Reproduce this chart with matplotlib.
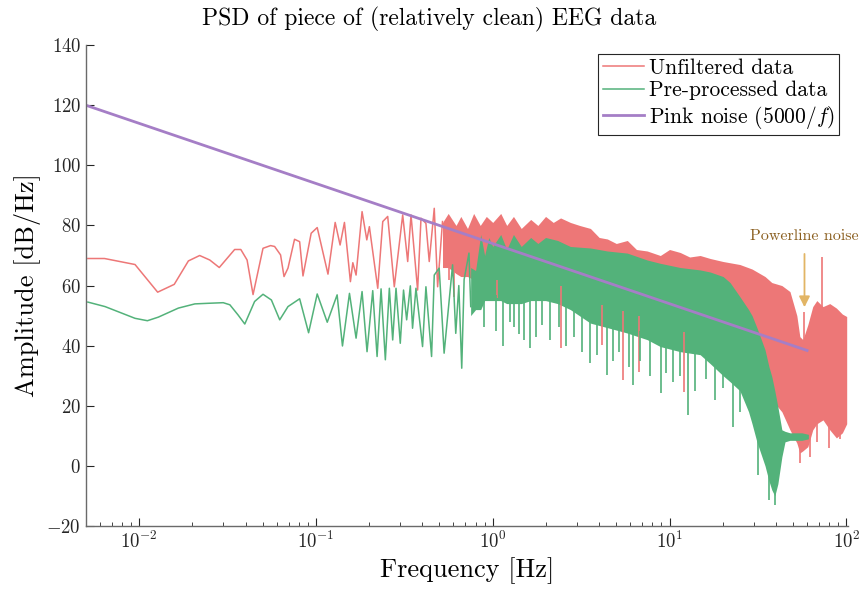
import numpy as np
import matplotlib
matplotlib.use("Agg")
import matplotlib.pyplot as plt

plt.rcParams['font.family'] = 'serif'
plt.rcParams['font.serif'] = ['cmr10']
plt.rcParams['mathtext.fontset'] = 'cm'
plt.rcParams['axes.formatter.use_mathtext'] = True
plt.rcParams['axes.unicode_minus'] = False

# unfiltered data, low frequency part (line)
red_f = [0.00513, 0.00637, 0.00948, 0.01273, 0.0158, 0.0190, 0.0220, 0.0251, 0.0284,
         0.0347, 0.0376, 0.0408, 0.0441, 0.0502, 0.0554, 0.0584, 0.0631, 0.0660, 0.0695,
         0.0757, 0.0809, 0.0845, 0.0940, 0.1017, 0.117, 0.1285, 0.137, 0.145, 0.1567,
         0.1617, 0.1687, 0.1824, 0.194, 0.2006, 0.2237, 0.2388, 0.2547, 0.2775, 0.3096,
         0.3305, 0.345, 0.376, 0.393, 0.419, 0.4375, 0.467, 0.488, 0.52]
red_db = [69, 69, 67, 57.8, 60.4, 68.2, 70, 68.5, 66,
          72, 72, 68.5, 57, 72.4, 73.3, 73, 70.2, 63, 65.8,
          75.4, 74.6, 63.2, 77.4, 79.3, 63.8, 81, 73.5, 81, 61.3,
          67.6, 63.5, 84.6, 75.2, 79.6, 59.1, 81.3, 83, 59.6, 83.5,
          68, 83.5, 58.5, 82.4, 80.7, 68, 85.7, 59.6, 81.3]

# unfiltered data, dense part (envelope)
red_band_f = [0.52, 0.56, 0.62, 0.66, 0.72, 0.78, 0.85, 0.92, 1.0, 1.11, 1.2, 1.31, 1.45,
              1.64, 1.8, 1.99, 2.2, 2.42, 2.75, 3.1, 3.57, 4.0, 4.45, 5.0, 5.77, 6.5,
              7.48, 8.87, 10, 11.5, 13, 14.9, 17, 20.1, 25, 29.3, 34.7, 37.9, 43.2,
              48, 52.5, 54.6, 56.8, 60.6, 64.6, 68.1, 73.8, 80.6, 87.9, 95, 100.5]
red_band_top = [81, 84, 80, 83, 79, 84, 80, 83, 81, 84, 80, 83, 79,
                82, 80, 83, 81, 82.5, 81, 80, 79, 76, 75.5, 74, 75, 72,
                71.5, 70, 72, 71, 69.5, 70, 69, 68, 67, 65.5, 63, 61, 60,
                58, 50, 43, 42, 47, 53, 55, 53, 54, 52.5, 50.5, 49.7]
red_band_bot = [66, 66, 64, 63, 63, 62, 62, 61, 60, 60, 59, 59, 59,
                60, 60, 60, 59, 58, 57, 55, 53, 52, 51, 50, 49, 48,
                47, 45, 44, 43, 42, 41, 38, 35, 30, 25, 25.3, 22, 18,
                12, 7.6, 4.3, 5, 6.4, 12, 14, 15.3, 12, 9.3, 11, 14]

# unfiltered data, isolated spikes
red_spike_f = [0.567, 0.605, 1.063, 2.44, 4.16, 5.46, 6.69, 12.0, 54.6, 62.0, 68.0, 80.0, 92.0]
red_spike_db = [61.9, 56.3, 55.8, 39.2, 40.3, 28.6, 31.4, 24.7, 1, 3, 8, 6, 9]
red_peak_f = [57.5, 72.6]
red_peak_db = [51.3, 69.6]

# pre-processed data, low frequency part (line)
grn_f = [0.00513, 0.00642, 0.00948, 0.01114, 0.01285, 0.01667, 0.02067, 0.0246, 0.0299,
         0.0326, 0.0363, 0.0396, 0.0450, 0.0502, 0.0560, 0.0624, 0.0695, 0.0809, 0.0909,
         0.1017, 0.1159, 0.1318, 0.1413, 0.1548, 0.1687, 0.1824, 0.1946, 0.2096, 0.2218,
         0.2336, 0.2470, 0.2602, 0.2718, 0.2838, 0.300, 0.313, 0.326, 0.342, 0.352,
         0.368, 0.401, 0.419, 0.451, 0.467, 0.498, 0.531, 0.593, 0.618, 0.643, 0.668,
         0.689, 0.734, 0.751]
grn_db = [54.5, 53.0, 49.1, 48.3, 49.5, 52.5, 53.9, 54.1, 54.3,
          53.6, 50.2, 47.2, 54.7, 57.1, 55.2, 48.6, 53.0, 55.6, 44.3,
          57.2, 47.8, 56.9, 39.9, 57.4, 42.5, 58.0, 38.0, 58.3, 36.4,
          58.9, 35.3, 59.1, 41.9, 59.1, 40.8, 58.5, 48.6, 59.9, 45.8,
          59.1, 39.7, 59.6, 36.4, 63.5, 65.8, 37.5, 66.9, 44.1, 60, 32.5,
          62, 70.8, 53]

# pre-processed data, dense part (envelope)
grn_band_f = [0.75, 0.8, 0.855, 0.9, 0.95, 1.0, 1.11, 1.2, 1.31, 1.45, 1.64, 1.8, 1.99,
              2.33, 2.75, 3.57, 4.45, 5.77, 7.48, 8.87, 11.5, 14.9, 17, 20.1, 22, 25,
              28, 29.3, 31.2, 34.7, 36.5, 37.9, 39.4, 41.0, 43.2, 45, 48, 52, 56, 61]
grn_band_top = [66, 65, 77, 70, 76, 73, 77, 72, 77, 73, 76, 74, 76,
                75, 73, 72.5, 71.5, 70.8, 68.5, 67.4, 66, 65.2, 64.5, 63, 61, 56.3,
                52, 50, 46, 38.6, 33, 29.7, 25, 19.7, 12, 11.5, 11, 11, 11, 10.5]
grn_band_bot = [50, 52, 52, 55, 55, 55, 55, 54, 54, 54, 55, 55, 55,
                54, 52, 47.5, 46, 44.2, 42, 39.7, 38, 37, 34, 30, 28, 25,
                18, 14, 8, 0, -5, -8, -10, -6, 3, 8, 8.5, 8.5, 8.5, 9]
grn_spike_f = [0.893, 1.05, 1.15, 1.25, 1.32, 1.40, 1.50, 1.62, 1.75, 1.9, 2.1, 2.37,
               2.6, 2.9, 3.2, 3.57, 3.9, 4.44, 4.8, 5.2, 5.9, 6.22, 6.8, 7.8, 8.94,
               9.5, 10.5, 11.5, 12.7, 14, 16, 18, 20, 23.0, 25, 31.8, 36.5, 39.4]
grn_spike_db = [46.3, 45, 40, 48, 46.3, 44, 41.9, 39.2, 43, 47, 42, 46.3,
                40, 43, 38, 34.2, 37, 30.3, 35, 38, 33, 27, 35, 30, 24.2,
                31, 28, 30, 17, 25, 29, 22, 26, 13, 18, -3, -11.3, -13]

# pink noise 5000/f
pink_f = [0.005, 60]
pink_db = [120, 38.4]

c_red = '#ED7777'
c_grn = '#53B27A'
c_pur = '#A57EC6'

fig = plt.figure(figsize=(8.59, 5.90), dpi=100)
ax = fig.add_axes([0.100, 0.1085, 0.887, 0.815])

# unfiltered
ax.plot(red_f, red_db, color=c_red, lw=1.1, label='Unfiltered data')
ax.fill_between(red_band_f, red_band_bot, red_band_top, color=c_red, lw=0)
ax.vlines(red_spike_f, red_spike_db, np.interp(red_spike_f, red_band_f, red_band_bot) + 2,
          color=c_red, lw=1.2)
ax.vlines(red_peak_f, np.interp(red_peak_f, red_band_f, red_band_top) - 2, red_peak_db,
          color=c_red, lw=1.2)

# pre-processed
ax.plot(grn_f, grn_db, color=c_grn, lw=1.1, label='Pre-processed data')
ax.fill_between(grn_band_f, grn_band_bot, grn_band_top, color=c_grn, lw=0)
ax.vlines(grn_spike_f, grn_spike_db, np.interp(grn_spike_f, grn_band_f, grn_band_bot) + 2,
          color=c_grn, lw=1.2)

# pink noise
ax.plot(pink_f, pink_db, color=c_pur, lw=2, label='Pink noise (5000/$f$)')

ax.annotate('Powerline noise', xy=(58, 52.8), xytext=(58, 76.5),
            ha='center', va='center', fontsize=11.5, color='#8A5E1E',
            arrowprops=dict(arrowstyle='-|>', color='#E2B565', lw=1.3,
                            mutation_scale=16, shrinkA=6, shrinkB=0),
            annotation_clip=False)

ax.set_xscale('log')
ax.set_xlim(0.005, 102)
ax.set_ylim(-20, 140)
ax.set_yticks(np.arange(-20, 141, 20))
for s in ['top', 'right']:
    ax.spines[s].set_visible(False)
for s in ['left', 'bottom']:
    ax.spines[s].set_color('#6a6a6a')
    ax.spines[s].set_linewidth(1.0)
ax.tick_params(which='both', direction='in', labelsize=13.5, colors='#262626')
ax.tick_params(which='major', length=6)
ax.tick_params(which='minor', length=3)

ax.set_title('PSD of piece of (relatively clean) EEG data', fontsize=17, pad=14,
             x=(0.5 - 0.100) / 0.887)
ax.set_xlabel('Frequency [Hz]', fontsize=19)
ax.set_ylabel('Amplitude [dB/Hz]', fontsize=19)

leg = ax.legend(loc='upper right', fontsize=15.5, fancybox=False, framealpha=1,
                edgecolor='#262626', handlelength=1.9, borderpad=0.2,
                labelspacing=0.15, handletextpad=0.25, borderaxespad=0.4)
leg.get_frame().set_linewidth(0.8)

fig.savefig('out.png', dpi=100)
